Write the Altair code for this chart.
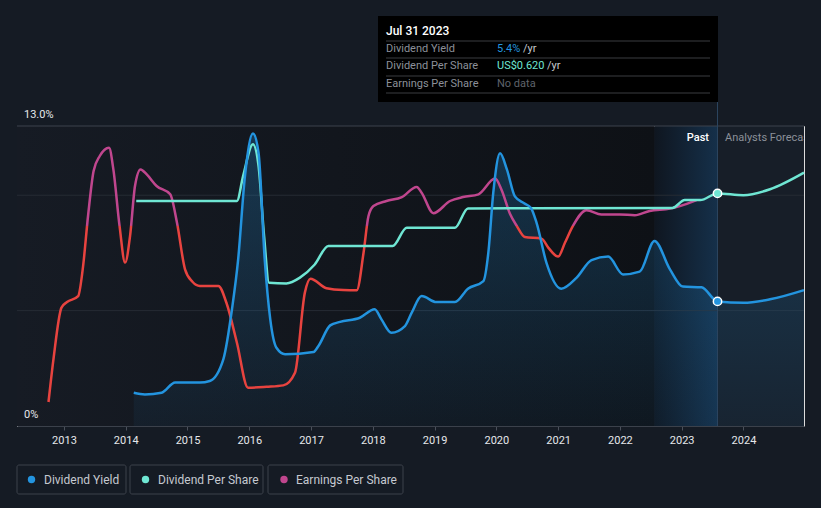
import altair as alt
import pandas as pd

# ---------------- data ----------------
dy_year = [2014.13, 2014.31, 2014.58, 2014.80, 2015.20, 2015.36, 2015.58, 2015.72, 2015.82,
           2015.93, 2016.06, 2016.15, 2016.25, 2016.34, 2016.44, 2016.58, 2017.04, 2017.12,
           2017.31, 2017.47, 2017.79, 2018.03, 2018.14, 2018.30, 2018.52, 2018.63, 2018.79,
           2019.03, 2019.33, 2019.54, 2019.79, 2019.87, 2019.95, 2020.06, 2020.17, 2020.30,
           2020.45, 2020.56, 2020.65, 2020.81, 2021.05, 2021.30, 2021.54, 2021.81, 2022.05,
           2022.32, 2022.56, 2022.81, 2023.02, 2023.32, 2023.58, 2024.00, 2024.43, 2024.98]
dy_val = [1.44, 1.37, 1.44, 1.88, 1.88, 1.95, 2.89, 5.06, 7.22,
          10.83, 12.68, 11.84, 7.22, 4.62, 3.39, 3.11, 3.21, 3.47,
          4.36, 4.51, 4.69, 5.06, 4.62, 4.04, 4.33, 4.91, 5.63,
          5.37, 5.37, 5.95, 6.28, 7.51, 10.11, 11.82, 11.12, 9.95,
          9.65, 9.45, 8.81, 7.08, 5.95, 6.43, 7.19, 7.34, 6.57,
          6.69, 8.02, 6.79, 6.04, 6.01, 5.40, 5.34, 5.49, 5.89]

dps_year = [2014.17, 2015.80, 2015.90, 2016.06, 2016.15, 2016.24, 2016.32, 2016.60, 2016.82,
            2017.06, 2017.28, 2018.32, 2018.55, 2019.33, 2019.54, 2022.85, 2023.05, 2023.30,
            2023.58, 2024.00, 2024.43, 2024.98]
dps_val = [9.75, 9.75, 10.83, 12.21, 11.27, 8.23, 6.21, 6.18, 6.43,
           7.00, 7.80, 7.80, 8.59, 8.59, 9.43, 9.45, 9.79, 9.79,
           10.08, 10.00, 10.26, 10.98]

eps_year = [2012.75, 2012.83, 2012.96, 2013.05, 2013.23, 2013.31, 2013.39, 2013.48, 2013.58,
            2013.73, 2013.80, 2013.90, 2013.99, 2014.07, 2014.15, 2014.24, 2014.34, 2014.50,
            2014.72, 2014.83, 2014.96, 2015.08, 2015.20, 2015.50, 2015.63, 2015.80, 2015.98,
            2016.28, 2016.55, 2016.74, 2016.90, 2016.99, 2017.25, 2017.52, 2017.74, 2017.85,
            2017.93, 2018.01, 2018.22, 2018.47, 2018.71, 2018.79, 2018.98, 2019.25, 2019.46,
            2019.71, 2019.98, 2020.08, 2020.22, 2020.33, 2020.46, 2020.73, 2020.84, 2021.00,
            2021.11, 2021.24, 2021.46, 2021.70, 2022.00, 2022.24, 2022.48, 2022.81, 2022.97,
            2023.24]
eps_val = [1.04, 2.89, 5.13, 5.37, 5.63, 6.93, 9.10, 11.05, 11.70,
           12.06, 11.12, 8.67, 7.08, 8.23, 10.40, 11.12, 10.90, 10.40,
           10.04, 8.81, 6.79, 6.25, 6.07, 6.07, 5.34, 3.61, 1.66,
           1.70, 1.76, 2.31, 5.78, 6.38, 5.97, 5.89, 5.88, 7.51,
           9.10, 9.53, 9.75, 9.92, 10.36, 10.11, 9.22, 9.75, 9.92,
           10.04, 10.72, 10.26, 9.20, 8.67, 8.19, 8.12, 7.73, 7.34,
           7.94, 8.67, 9.35, 9.17, 9.17, 9.13, 9.32, 9.42, 9.53,
           9.79]

year_ticks = list(range(2013, 2025))
grid_values = [5, 10, 13]
y_label_pos = [0, 13]
y_label_text = ["0%", "13.0%"]
now_year = 2023.58
now_dy = 5.40
now_dps = 10.08
past_start = 2022.56
x_min, x_max = 2012.24, 2024.98

legend_names = ["Dividend Yield", "Dividend Per Share", "Earnings Per Share"]

# ---------------- style ----------------
BG = "#151b24"
BLUE = "#2394df"
TEAL = "#6fe6d3"
PINK = "#c0468e"
RED = "#e8433f"
FONT = "Roboto"
W, H = 787, 300

dy_df = pd.DataFrame({"year": dy_year, "value": dy_val})
dps_df = pd.DataFrame({"year": dps_year, "value": dps_val})
eps_df = pd.DataFrame({"year": eps_year, "value": eps_val})

x_scale = alt.Scale(domain=[x_min, x_max], nice=False, zero=False)
y_scale = alt.Scale(domain=[0, 13], nice=False, zero=True)
x_axis = alt.Axis(values=year_ticks, format="d", labelColor="#e6e8eb", labelFont=FONT,
                  labelFontSize=11, tickColor="#4a505a", tickSize=4, domainColor="#3b414b",
                  grid=False, title=None, labelPadding=4, labelFlush=False, zindex=1)

X = alt.X("year:Q", scale=x_scale, axis=x_axis)
Y = alt.Y("value:Q", scale=y_scale, axis=None)


def one_row(**kw):
    return pd.DataFrame({k: [v] for k, v in kw.items()} or {"a": [1]})


layers = []

# background regions
layers.append(
    alt.Chart(one_row(year=x_min, year2=past_start)).mark_rect(
        fill=alt.Gradient(gradient="linear", x1=0, x2=1, y1=0, y2=0,
                          stops=[alt.GradientStop(offset=0, color="#161b24"),
                                 alt.GradientStop(offset=1, color="#0e1116")])
    ).encode(x=X, x2="year2:Q", y=alt.value(0), y2=alt.value(H))
)
layers.append(
    alt.Chart(one_row(year=past_start, year2=now_year)).mark_rect(
        fill=alt.Gradient(gradient="linear", x1=0, x2=1, y1=0, y2=0,
                          stops=[alt.GradientStop(offset=0, color="#0f1620"),
                                 alt.GradientStop(offset=1, color="#15304a")])
    ).encode(x=X, x2="year2:Q", y=alt.value(0), y2=alt.value(H))
)
layers.append(
    alt.Chart(one_row(year=now_year, year2=x_max)).mark_rect(fill="#171e28")
    .encode(x=X, x2="year2:Q", y=alt.value(0), y2=alt.value(H))
)

# grid lines
grid_df = pd.DataFrame({"value": grid_values})
layers.append(
    alt.Chart(grid_df).mark_rule(strokeWidth=1).encode(
        y=Y, x=alt.value(0), x2=alt.value(W),
        color=alt.condition("datum.value === 13", alt.value("#3d424c"), alt.value("#262b34")),
    )
)

# y labels
layers.append(
    alt.Chart(pd.DataFrame({"value": y_label_pos, "label": y_label_text})).mark_text(
        align="left", baseline="alphabetic", dy=-8, fontSize=11, color="#e6e8eb", font=FONT
    ).encode(x=alt.value(7), y=Y, text="label:N")
)

# dividend yield area
layers.append(
    alt.Chart(dy_df).mark_area(
        interpolate="monotone",
        fill=alt.Gradient(gradient="linear", x1=0, x2=0, y1=0, y2=1,
                          stops=[alt.GradientStop(offset=0, color="rgba(35,148,223,0.26)"),
                                 alt.GradientStop(offset=1, color="rgba(35,148,223,0.05)")]),
    ).encode(x=X, y=Y)
)

# now rule
layers.append(
    alt.Chart(one_row(year=now_year)).mark_rule(color="#2c4660", strokeWidth=1)
    .encode(x=X, y=alt.value(-24), y2=alt.value(H))
)

# EPS line with threshold colouring
thr = 8.69
frac = (max(eps_val) - thr) / (max(eps_val) - min(eps_val))
layers.append(
    alt.Chart(eps_df).mark_line(
        interpolate="monotone", strokeWidth=2.5,
        color=alt.Gradient(gradient="linear", x1=0, x2=0, y1=0, y2=1,
                           stops=[alt.GradientStop(offset=0, color=PINK),
                                  alt.GradientStop(offset=frac, color=PINK),
                                  alt.GradientStop(offset=frac + 0.001, color=RED),
                                  alt.GradientStop(offset=1, color=RED)]),
    ).encode(x=X, y=Y)
)
layers.append(
    alt.Chart(dps_df).mark_line(interpolate="monotone", strokeWidth=2.5, color=TEAL)
    .encode(x=X, y=Y)
)
layers.append(
    alt.Chart(dy_df).mark_line(interpolate="monotone", strokeWidth=2.5, color=BLUE)
    .encode(x=X, y=Y)
)

# current points
layers.append(
    alt.Chart(pd.DataFrame({"year": [now_year], "value": [now_dps]})).mark_circle(
        size=70, fill=TEAL, stroke="#ffffff", strokeWidth=1.5, opacity=1
    ).encode(x=X, y=Y)
)
layers.append(
    alt.Chart(pd.DataFrame({"year": [now_year], "value": [now_dy]})).mark_circle(
        size=70, fill=BLUE, stroke="#ffffff", strokeWidth=1.5, opacity=1
    ).encode(x=X, y=Y)
)

# Past / Forecast labels
layers.append(
    alt.Chart(one_row(a=1)).mark_text(text="Past", align="right", baseline="middle",
                                      fontSize=11, color="#ffffff", font=FONT, fontWeight=500)
    .encode(x=alt.value(692), y=alt.value(12))
)
layers.append(
    alt.Chart(one_row(a=1)).mark_text(text="Analysts Forecasts", align="left", baseline="middle",
                                      fontSize=11, color="#8b9099", font=FONT, clip=True)
    .encode(x=alt.value(708), y=alt.value(12))
)

# tooltip box
layers.append(
    alt.Chart(one_row(a=1)).mark_rect(fill="#000000")
    .encode(x=alt.value(361), x2=alt.value(701), y=alt.value(-110), y2=alt.value(-24))
)
for yy in [-85, -68, -50, -33]:
    layers.append(
        alt.Chart(one_row(a=1)).mark_rule(color="#3a3c40", strokeWidth=1)
        .encode(x=alt.value(369), x2=alt.value(693), y=alt.value(yy))
    )


def txt(t, x, y, color, size=11, weight=400):
    return alt.Chart(one_row(a=1)).mark_text(
        text=t, align="left", baseline="middle", fontSize=size, color=color,
        font=FONT, fontWeight=weight
    ).encode(x=alt.value(x), y=alt.value(y))


layers.append(txt("Jul 31 2023", 369, -95, "#ffffff", 12, 500))
layers.append(txt("Dividend Yield", 369, -77, "#8c9099"))
layers.append(txt("Dividend Per Share", 369, -60, "#8c9099"))
layers.append(txt("Earnings Per Share", 369, -42, "#8c9099"))
layers.append(txt("5.4%", 480, -77, BLUE))
layers.append(txt("/yr", 506, -77, "#c6c9ce"))
layers.append(txt("US$0.620", 480, -60, TEAL))
layers.append(txt("/yr", 530, -60, "#c6c9ce"))
layers.append(txt("No data", 480, -42, "#5f636b"))

# legend boxes
legend_colors = [BLUE, TEAL, PINK]
box_x = [(0, 109), (113, 246), (251, 386)]
dot_x = [14.5, 128.5, 267]
lab_x = [27, 141, 279]
for name, col, (bx0, bx1), dx, lx in zip(legend_names, legend_colors, box_x, dot_x, lab_x):
    layers.append(
        alt.Chart(one_row(a=1)).mark_rect(fill=BG, stroke="#3d424b", strokeWidth=1, cornerRadius=2)
        .encode(x=alt.value(bx0), x2=alt.value(bx1), y=alt.value(339), y2=alt.value(368))
    )
    layers.append(
        alt.Chart(one_row(a=1)).mark_circle(size=55, fill=col, opacity=1)
        .encode(x=alt.value(dx), y=alt.value(353.5))
    )
    layers.append(txt(name, lx, 353.5, "#c5c9d0", 12))

chart = alt.layer(*layers).properties(
    width=W, height=H,
    padding={"left": 9, "top": 118, "right": 1, "bottom": 70},
    autosize=alt.AutoSizeParams(type="none"),
    background=BG,
).configure_view(stroke=None).configure(font=FONT)

chart.save("out.html", embed_options={"renderer": "svg", "actions": False,
                                      "defaultStyle": "body{background:#151b24;}"})
